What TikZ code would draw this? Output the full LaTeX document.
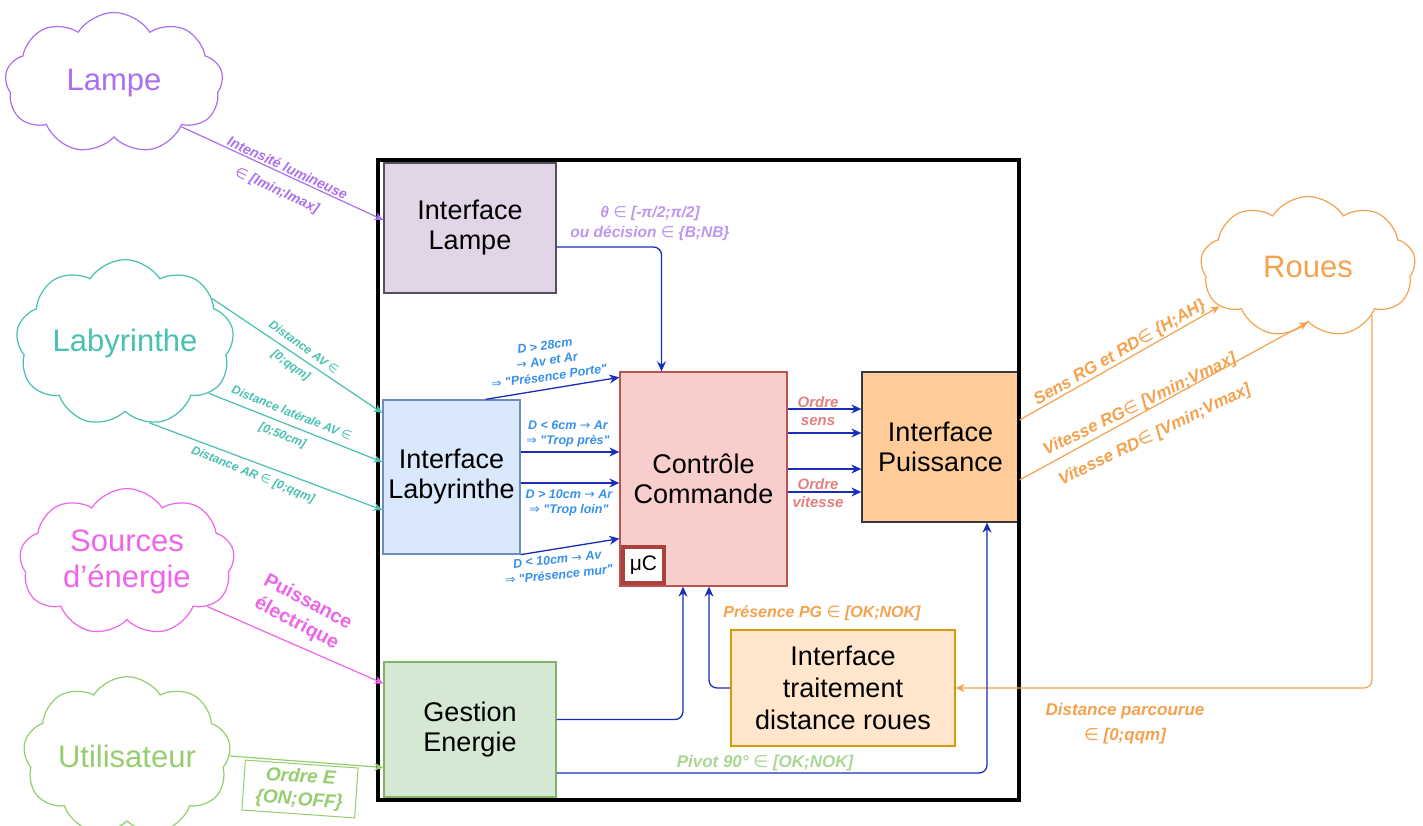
\documentclass[tikz,border=0pt]{standalone}
\usepackage{fontspec}
\setmainfont{Liberation Sans}
\newfontfamily\symf{DejaVu Sans}
\newfontfamily\plainf{Liberation Sans}
\usetikzlibrary{shapes.symbols,arrows.meta,calc}
\newcommand\myin{{\symf\mdseries ∈}}
\newcommand\myto{{\symf\mdseries →}}
\newcommand\myimp{{\symf\mdseries ⇒}}
\newcommand\dq{{\plainf"}}
% palette
\definecolor{cLampe}{RGB}{170,112,240}
\definecolor{cTheta}{RGB}{190,150,242}
\definecolor{cLab}{RGB}{72,192,178}
\definecolor{cSrc}{RGB}{240,100,235}
\definecolor{cUser}{RGB}{150,205,110}
\definecolor{cPivot}{RGB}{172,214,150}
\definecolor{cRoues}{RGB}{245,162,78}
\definecolor{cBlue}{RGB}{25,45,185}
\definecolor{cBlueTxt}{RGB}{55,145,232}
\definecolor{cOrdre}{RGB}{228,128,128}
\definecolor{fLampe}{HTML}{E1D5E7}\definecolor{dLampe}{RGB}{85,80,95}
\definecolor{fLab}{HTML}{DAE8FC}\definecolor{dLab}{HTML}{6C8EBF}
\definecolor{fCC}{HTML}{F8CECC}\definecolor{dCC}{HTML}{B85450}
\definecolor{dMu}{RGB}{170,65,60}
\definecolor{fPui}{HTML}{FFCC99}\definecolor{dPui}{HTML}{36393D}
\definecolor{fTr}{HTML}{FFE6CC}\definecolor{dTr}{HTML}{D79B00}
\definecolor{fGe}{HTML}{D5E8D4}\definecolor{dGe}{HTML}{82B366}
\begin{document}
\begin{tikzpicture}[x=1pt,y=-1pt,
  blk/.style={rectangle, inner sep=0, align=center, line width=1.3pt,
    font=\fontsize{27}{30}\selectfont},
  cld/.style={cloud, cloud puffs=9, cloud puff arc=115, aspect=1.5, inner sep=0,
    line width=1.2pt, font=\fontsize{31}{36}\selectfont},
  lbl/.style 2 args={align=center, inner sep=0, font=\bfseries\itshape\fontsize{#1}{#2}\selectfont},
  bluearr/.style={draw=cBlue, line width=1.3pt, -{Stealth[length=10pt,width=9pt]}},
  colarr/.style={line width=1.2pt, -{Stealth[length=9pt,width=8pt]}}]
\fill[white] (0,0) rectangle (1423,826);
\useasboundingbox (0,0) rectangle (1423,826);

% external clouds
\node[cld, draw=cLampe, text=cLampe, minimum width=218pt, minimum height=141pt] (lampe) at (114,83) {Lampe};
\node[cld, draw=cLab, text=cLab, minimum width=214pt, minimum height=139pt] (lab) at (125,343) {Labyrinthe};
\node[cld, draw=cSrc, text=cSrc, minimum width=215pt, minimum height=130pt, align=center] (src) at (127,562) {Sources\\d'énergie};
\node[cld, draw=cUser, text=cUser, minimum width=207pt, minimum height=138pt] (user) at (127,756) {Utilisateur};
\node[cld, draw=cRoues, text=cRoues, minimum width=215pt, minimum height=141pt] (roues) at (1308,267) {Roues};

% functional blocks
\node[blk, fill=fLampe, draw=dLampe, minimum width=172pt, minimum height=130pt] (ilampe) at (470,228) {Interface\\Lampe};
\node[blk, fill=fLab, draw=dLab, minimum width=137pt, minimum height=154pt] (ilab) at (451.5,477) {Interface\\Labyrinthe};
\node[blk, fill=fCC, draw=dCC, minimum width=167pt, minimum height=214pt] (cc) at (703.5,479) {Contrôle\\Commande};
\node[blk, fill=white, draw=dMu, line width=3.5pt, minimum width=41pt, minimum height=36pt, font=\fontsize{21}{24}\selectfont] (mu) at (643.5,565) {μC};
\node[blk, fill=fPui, draw=dPui, minimum width=157pt, minimum height=150pt] (ip) at (940.5,447) {Interface\\Puissance};
\node[blk, fill=fTr, draw=dTr, minimum width=224pt, minimum height=116pt, font=\fontsize{27}{32}\selectfont] (tr) at (843,688) {Interface\\traitement\\distance roues};
\node[blk, fill=fGe, draw=dGe, minimum width=172pt, minimum height=135pt] (ge) at (470,729.5) {Gestion\\Energie};

% system boundary
\node[draw=black, line width=4pt, minimum width=641pt, minimum height=640pt, inner sep=0] (frame) at (698.5,480) {};

% external flows
\draw[colarr, cLampe] (lampe.-33) -- ($(ilampe.west)+(0,-8)$);
\draw[colarr, cLab] (lab.27) -- ($(ilab.west)+(0,-64)$);
\draw[colarr, cLab] (lab.-31) -- ($(ilab.west)+(0,-15)$);
\draw[colarr, cLab] (lab.-73) -- ($(ilab.west)+(0,33)$);
\draw[colarr, cSrc] (src.-29) -- ($(ge.west)+(0,-46)$);
\draw[colarr, cUser] (user.east) -- ($(ge.west)+(0,38)$);
\draw[colarr, cRoues] ($(ip.east)+(0,-27)$) -- (roues.204);
\draw[colarr, cRoues] ($(ip.east)+(0,33)$) -- (roues.south);
\draw[colarr, cRoues, rounded corners=8pt] (roues.-37) |- (tr.east);

% internal flows
\draw[bluearr, rounded corners=8pt] ($(ilampe.east)+(0,19)$) -| ($(cc.north)+(-42,0)$);
\draw[bluearr] ($(ilab.north east)+(-35,0)$) -- ($(cc.north west)+(0,6)$);
\draw[bluearr] ($(ilab.east)+(0,-25)$) -- ($(cc.west)+(0,-27)$);
\draw[bluearr] ($(ilab.east)+(0,6)$) -- ($(cc.west)+(0,4)$);
\draw[bluearr] (ilab.south east) -- ($(cc.south west)+(0,-48)$);
\draw[bluearr] ($(cc.east)+(0,-70)$) -- ($(ip.west)+(0,-38)$);
\draw[bluearr] ($(cc.east)+(0,-46)$) -- ($(ip.west)+(0,-14)$);
\draw[bluearr] ($(cc.east)+(0,-10)$) -- ($(ip.west)+(0,22)$);
\draw[bluearr] ($(cc.east)+(0,13)$) -- ($(ip.west)+(0,45)$);
\draw[bluearr, rounded corners=8pt] (tr.west) -| ($(cc.south)+(5.5,0)$);
\draw[bluearr, rounded corners=8pt] ($(ge.east)+(0,-10)$) -| ($(cc.south)+(-20.5,0)$);
\draw[bluearr, rounded corners=8pt] ($(ge.east)+(0,43.5)$) -| ($(ip.south)+(46.5,0)$);

% flow labels
\node[lbl={14}{24}, text=cLampe, rotate=-25] (tIntens) at (282,180) {Intensité lumineuse\\\myin{} [Imin;Imax]};
\node[lbl={12}{22}, text=cLab, rotate=-36] (tDav) at (297,357) {Distance AV \myin\\{}[0;qqm]};
\node[lbl={12}{24}, text=cLab, rotate=-22] (tDlat) at (287,425) {Distance latérale AV \myin\\{}[0;50cm]};
\node[lbl={12}{14}, text=cLab, rotate=-22] (tDar) at (253,475) {Distance AR \myin{} [0;qqm]};
\node[font=\bfseries\fontsize{19.5}{24}\selectfont, align=center, inner sep=0, text=cSrc, rotate=-28] (tPuis) at (302,613) {Puissance\\électrique};
\node[lbl={19}{23}, text=cUser, draw=cUser, line width=1pt, rotate=-4, minimum width=113pt, minimum height=50pt] (tOrdreE) at (300,789) {Ordre E\\\{ON;OFF\}};
\node[lbl={15.5}{20}, text=cTheta] (tTheta) at (650,223) {θ \myin{} [-π/2;π/2]\\ou décision \myin{} \{B;NB\}};
\node[lbl={12.5}{15.5}, text=cBlueTxt, rotate=8] (tPorte) at (547,361) {D > 28cm\\\myto{} Av et Ar\\\myimp{} \dq Présence Porte\dq};
\node[lbl={12.5}{15.5}, text=cBlueTxt] (tPres) at (568,434) {D < 6cm \myto{} Ar\\\myimp{} \dq Trop près\dq};
\node[lbl={12.5}{15.5}, text=cBlueTxt] (tLoin) at (569,503) {D > 10cm \myto{} Ar\\\myimp{} \dq Trop loin\dq};
\node[lbl={12.5}{15.5}, text=cBlueTxt, rotate=6] (tMur) at (558,567) {D < 10cm \myto{} Av\\\myimp{} \dq Présence mur\dq};
\node[lbl={15}{18}, text=cOrdre] (tSens) at (818,411) {Ordre\\sens};
\node[lbl={15}{18}, text=cOrdre] (tVit) at (818,493) {Ordre\\vitesse};
\node[lbl={17}{20}, text=cRoues, rotate=30] (tSensRG) at (1120,353) {Sens RG et RD\myin{} \{H;AH\}};
\node[lbl={17}{20}, text=cRoues, rotate=26] (tVitRG) at (1140,405) {Vitesse RG\myin{} [Vmin;Vmax]};
\node[lbl={17}{20}, text=cRoues, rotate=26] (tVitRD) at (1155,435) {Vitesse RD\myin{} [Vmin;Vmax]};
\node[lbl={16}{19}, text=cRoues] (tPG) at (822,613) {Présence PG \myin{} [OK;NOK]};
\node[lbl={17}{20}, text=cPivot] (tPivot) at (765,763) {Pivot 90° \myin{} [OK;NOK]};
\node[lbl={17}{25}, text=cRoues] (tDist) at (1125,724) {Distance parcourue\\\myin{} [0;qqm]};
\end{tikzpicture}
\end{document}
